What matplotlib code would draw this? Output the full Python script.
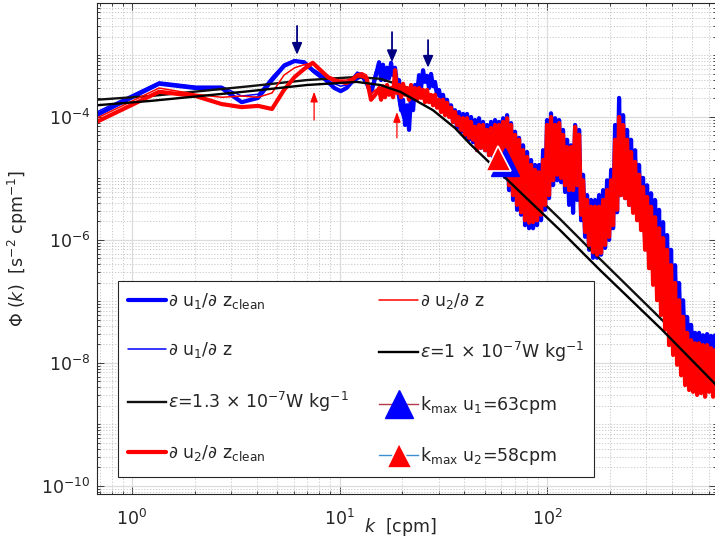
import numpy as np
import matplotlib
matplotlib.use("Agg")
import matplotlib.pyplot as plt
from matplotlib.ticker import LogLocator, NullFormatter

plt.rcParams['font.family'] = ['DejaVu Sans']
plt.rcParams['mathtext.fontset'] = 'dejavusans'

# wavenumber k [cpm]: low harmonics and the dense high-k part
k_low = [0.675, 1.35, 2.025, 2.70, 3.375, 4.05, 4.725, 5.40, 6.075, 6.75, 7.425,
         8.10, 8.775, 9.45, 10.125, 10.80, 11.475, 12.15, 12.825, 13.50, 14.175, 14.85]
k_high = [15.50, 15.85, 16.20, 16.56, 16.94, 17.32, 17.71, 18.11, 18.51, 18.93,
          19.35, 19.78, 20.23, 20.68, 21.15, 21.62, 22.11, 22.61, 23.11, 23.63,
          24.16, 24.70, 25.26, 25.83, 26.40, 26.99, 27.60, 28.22, 28.85, 29.50,
          30.16, 30.84, 31.53, 32.24, 32.96, 33.70, 34.46, 35.23, 36.02, 36.83,
          37.66, 38.50, 39.37, 40.25, 41.15, 42.07, 43.02, 43.99, 44.97, 45.98,
          47.01, 48.06, 49.15, 50.25, 51.38, 52.53, 53.71, 54.92, 56.15, 57.41,
          58.70, 60.02, 61.36, 62.74, 64.15, 65.59, 67.06, 68.56, 70.10, 71.67,
          73.29, 74.93, 76.61, 78.33, 80.09, 81.89, 83.73, 85.61, 87.53, 89.49,
          91.50, 93.55, 95.66, 97.81, 100.0, 102.2, 104.5, 106.9, 109.3, 111.8,
          114.3, 116.8, 119.4, 122.1, 124.9, 127.7, 130.5, 133.5, 136.5, 139.6,
          142.7, 145.9, 149.1, 152.5, 155.9, 159.4, 163.0, 166.6, 170.4, 174.2,
          178.1, 182.1, 186.2, 190.4, 194.6, 199.0, 203.5, 208.1, 212.7, 217.5,
          222.4, 227.4, 232.5, 237.7, 243.0, 248.5, 254.0, 259.7, 265.6, 271.5,
          277.6, 283.8, 290.2, 296.7, 303.4, 310.2, 317.2, 324.3, 331.6, 339.0,
          346.6, 354.4, 362.4, 370.5, 378.8, 387.3, 396.0, 404.9, 414.0, 423.3,
          432.8, 442.5, 452.4, 462.6, 473.0, 483.6, 494.4, 505.5, 516.9, 528.5,
          540.3, 552.4, 564.8, 577.5, 590.5, 603.7, 617.3, 631.2, 645.3]

# log10 of Phi(k) [s^-2 cpm^-1]
u1_clean_low = [-3.97, -3.46, -3.53, -3.53, -3.76, -3.69, -3.40, -3.17, -3.09, -3.11, -3.24,
                -3.32, -3.43, -3.53, -3.58, -3.53, -3.43, -3.37, -3.33, -3.45, -3.61, -3.37]
u1_clean_high = [-3.11, -3.40, -3.15, -3.40, -3.20, -3.37, -3.12, -3.32, -3.20, -3.48,
                 -3.40, -3.89, -3.72, -4.13, -3.81, -4.21, -3.64, -3.89, -3.48, -3.64,
                 -3.32, -3.53, -3.24, -3.43, -3.33, -3.53, -3.30, -3.50, -3.43, -3.64,
                 -3.56, -3.76, -3.64, -3.85, -3.72, -3.97, -3.81, -4.08, -3.89, -4.18,
                 -3.92, -4.24, -3.95, -4.33, -3.95, -4.37, -4.00, -4.41, -4.05, -4.54,
                 -4.02, -4.50, -4.08, -4.54, -4.13, -4.62, -4.08, -4.65, -4.05, -4.70,
                 -4.08, -4.83, -4.02, -4.98, -3.97, -5.19, -4.10, -5.35, -4.24, -5.51,
                 -4.34, -5.59, -4.46, -5.76, -4.57, -5.81, -4.70, -5.81, -4.78, -5.76,
                 -4.78, -5.68, -4.54, -5.51, -4.05, -5.32, -3.94, -5.11, -4.02, -5.03,
                 -4.05, -5.06, -4.21, -5.22, -4.37, -5.43, -4.46, -5.56, -4.13, -5.35,
                 -4.21, -5.68, -4.94, -5.95, -5.27, -6.16, -5.35, -6.29, -5.35, -6.29,
                 -5.27, -6.24, -5.19, -6.13, -5.03, -6.00, -4.86, -5.81, -4.13, -5.55,
                 -3.69, -5.27, -3.97, -5.32, -4.21, -5.43, -4.37, -5.51, -4.54, -5.59,
                 -4.78, -5.71, -4.99, -6.00, -5.11, -6.24, -5.24, -6.49, -5.35, -6.73,
                 -5.51, -6.98, -5.71, -7.17, -5.92, -7.38, -6.16, -7.55, -6.41, -7.66,
                 -6.70, -7.76, -6.98, -7.79, -7.25, -7.82, -7.38, -7.84, -7.51, -7.87,
                 -7.51, -7.84, -7.55, -7.87, -7.53, -7.82, -7.56, -7.87, -7.55]

u2_clean_low = [-4.08, -3.59, -3.66, -3.79, -3.84, -3.82, -3.87, -3.56, -3.35, -3.22, -3.12,
                -3.24, -3.35, -3.40, -3.43, -3.45, -3.40, -3.33, -3.33, -3.37, -3.72, -3.64]
u2_clean_high = [-3.53, -3.72, -3.50, -3.68, -3.48, -3.64, -3.53, -3.68, -3.24, -3.61,
                 -3.48, -3.68, -3.46, -3.64, -3.53, -3.72, -3.48, -3.68, -3.53, -3.72,
                 -3.53, -3.69, -3.56, -3.76, -3.56, -3.76, -3.64, -3.81, -3.64, -3.85,
                 -3.72, -3.92, -3.72, -3.97, -3.77, -4.00, -3.85, -4.08, -3.92, -4.13,
                 -4.02, -4.21, -4.02, -4.29, -4.02, -4.34, -4.08, -4.37, -4.16, -4.54,
                 -4.13, -4.50, -4.13, -4.54, -4.21, -4.62, -4.18, -4.62, -4.13, -4.67,
                 -4.13, -4.78, -4.08, -4.94, -4.02, -5.11, -4.13, -5.27, -4.29, -5.43,
                 -4.37, -5.55, -4.54, -5.68, -4.65, -5.72, -4.78, -5.71, -4.86, -5.68,
                 -4.90, -5.59, -4.70, -5.43, -4.13, -5.27, -4.00, -5.03, -4.13, -4.94,
                 -4.10, -4.99, -4.29, -5.11, -4.49, -5.19, -4.49, -5.19, -4.16, -5.11,
                 -4.29, -5.59, -5.03, -5.87, -5.35, -6.08, -5.46, -6.20, -5.46, -6.24,
                 -5.46, -6.21, -5.35, -6.08, -5.19, -5.95, -5.03, -5.76, -4.37, -5.51,
                 -4.00, -5.27, -4.13, -5.32, -4.37, -5.43, -4.57, -5.56, -4.73, -5.68,
                 -4.94, -5.84, -5.14, -6.16, -5.30, -6.46, -5.46, -6.73, -5.63, -6.98,
                 -5.81, -7.22, -5.97, -7.46, -6.16, -7.71, -6.41, -7.87, -6.70, -8.03,
                 -6.98, -8.20, -7.25, -8.36, -7.51, -8.44, -7.63, -8.47, -7.68, -8.52,
                 -7.68, -8.49, -7.71, -8.55, -7.71, -8.47, -7.76, -8.55, -7.79]

u1_raw_log = [-3.92, -3.43, -3.50, -3.50, -3.66, -3.63, -3.35, -3.14, -3.07, -3.12, -3.27,
              -3.37, -3.40, -3.46, -3.50, -3.48, -3.37, -3.27, -3.30, -3.40, -3.53, -3.27,
              -3.15, -3.27, -3.20, -3.17, -3.40, -3.81, -4.02, -4.05, -3.72, -3.53,
              -3.37, -3.32, -3.40, -3.37, -3.56, -3.64, -3.72, -3.85, -3.89, -4.02,
              -4.02, -4.13, -4.05, -4.21, -4.08, -4.29, -4.13, -4.37, -4.18, -4.41,
              -4.18, -4.54, -4.13, -4.70, -4.37, -5.19, -4.70, -5.43, -4.86, -5.43,
              -4.94, -5.35, -4.86, -4.08, -4.78, -4.18, -4.86, -4.70, -5.27, -4.37,
              -4.37, -5.59, -5.43, -6.00, -5.59, -6.00, -5.51, -5.76, -5.43, -5.19,
              -3.89, -4.94, -4.37, -5.19, -4.78, -5.43, -5.19, -5.92, -5.51, -6.41,
              -5.84, -6.81, -6.33, -7.22, -6.73, -7.46, -7.14, -7.63, -7.51, -7.71,
              -7.59, -7.71, -7.63, -7.72, -7.66]

u2_raw_log = [-4.02, -3.53, -3.63, -3.68, -3.66, -3.68, -3.61, -3.32, -3.20, -3.15, -3.12,
              -3.25, -3.37, -3.43, -3.40, -3.40, -3.37, -3.30, -3.28, -3.32, -3.64, -3.56,
              -3.64, -3.59, -3.56, -3.59, -3.32, -3.56, -3.53, -3.64, -3.56, -3.64,
              -3.61, -3.69, -3.64, -3.72, -3.72, -3.81, -3.81, -3.89, -3.89, -3.98,
              -3.98, -4.08, -4.08, -4.18, -4.15, -4.28, -4.21, -4.34, -4.26, -4.41,
              -4.24, -4.54, -4.13, -4.70, -4.37, -5.19, -4.73, -5.43, -4.94, -5.51,
              -5.03, -5.43, -4.90, -4.08, -4.86, -4.18, -4.90, -4.78, -5.11, -4.37,
              -4.37, -5.68, -5.35, -6.00, -5.59, -6.08, -5.59, -5.84, -5.51, -5.27,
              -4.08, -5.03, -4.46, -5.35, -4.94, -5.59, -5.35, -6.16, -5.76, -6.65,
              -6.16, -7.14, -6.65, -7.55, -7.14, -7.95, -7.63, -8.20, -7.95, -8.28,
              -8.03, -8.28, -8.08, -8.31, -8.11]

# model spectra
k_model = [0.675, 1.22, 2.13, 3.70, 6.97, 12.1, 15.7, 19.6, 28.2, 36.0, 42.6,
           74.1, 115.5, 180.0, 358.0, 645.3]
eps13_log = [-3.72, -3.66, -3.58, -3.50, -3.40, -3.35, -3.38, -3.48, -3.68, -3.97, -4.21,
             -5.03, -5.66, -6.31, -7.30, -8.15]
eps10_log = [-3.81, -3.74, -3.66, -3.58, -3.48, -3.43, -3.48, -3.59, -3.89, -4.18, -4.44,
             -5.22, -5.84, -6.49, -7.46, -8.34]

# k_max markers
kmax_u1, kmax_u1_log = 63.0, -4.74
kmax_u2, kmax_u2_log = 58.0, -4.66

# arrows: (k, tail log10, tip log10)
arrows_u1 = [(6.24, -2.52, -2.99), (17.9, -2.62, -3.11), (26.7, -2.75, -3.20)]
arrows_u2 = [(7.54, -4.05, -3.59), (18.9, -4.34, -3.92)]

labels = [r'$\partial$ u$_1$/$\partial$ z$_{\mathrm{clean}}$',
          r'$\partial$ u$_1$/$\partial$ z',
          r'$\epsilon$=1.3 $\times$ 10$^{-7}$W kg$^{-1}$',
          r'$\partial$ u$_2$/$\partial$ z$_{\mathrm{clean}}$',
          r'$\partial$ u$_2$/$\partial$ z',
          r'$\epsilon$=1 $\times$ 10$^{-7}$W kg$^{-1}$',
          r'k$_{\mathrm{max}}$ u$_1$=63cpm',
          r'k$_{\mathrm{max}}$ u$_2$=58cpm']

k_clean = k_low + k_high
k_raw = k_low + k_high[::2]
u1_clean_log = u1_clean_low + u1_clean_high
u2_clean_log = u2_clean_low + u2_clean_high

txt = '#262626'
fig = plt.figure(figsize=(7.15, 5.45), dpi=100)
ax = fig.add_axes([0.1357, 0.0936, 0.8663, 0.9009])
ax.set_xscale('log')
ax.set_yscale('log')

p = lambda a: 10.0 ** np.asarray(a)
kw = dict(solid_joinstyle='round', solid_capstyle='round')
ax.plot(k_clean, p(u1_clean_log), color='#0000ff', lw=3.0, label=labels[0], **kw)
ax.plot(k_raw, p(u1_raw_log), color='#0000ff', lw=1.1, label=labels[1], **kw)
ax.plot(k_model, p(eps13_log), color='#111111', lw=1.7, label=labels[2])
ax.plot(k_clean, p(u2_clean_log), color='#ff0000', lw=3.0, label=labels[3], **kw)
ax.plot(k_raw, p(u2_raw_log), color='#ff0000', lw=1.1, label=labels[4], **kw)
ax.plot(k_model, p(eps10_log), color='#000000', lw=1.7, label=labels[5])
ax.plot([kmax_u1], [10 ** kmax_u1_log], marker='^', ms=20, mfc='#0000ff', mec='#0000ff',
        color='#b03a48', lw=1.0, label=labels[6])
ax.plot([kmax_u2], [10 ** kmax_u2_log], marker='^', ms=18, mfc='#ff0000', mec='white',
        mew=1.2, color='#3d8fd1', lw=1.0, label=labels[7])

for kk, t0, t1 in arrows_u1:
    ax.annotate('', xy=(kk, 10 ** t1), xytext=(kk, 10 ** t0),
                arrowprops=dict(arrowstyle='-|>,head_width=0.3,head_length=0.7',
                                color='#000080', lw=1.3, shrinkA=0, shrinkB=0))
for kk, t0, t1 in arrows_u2:
    ax.annotate('', xy=(kk, 10 ** t1), xytext=(kk, 10 ** t0),
                arrowprops=dict(arrowstyle='-|>,head_width=0.22,head_length=0.6',
                                color='#ff0000', lw=0.9, shrinkA=0, shrinkB=0))

ax.set_xlim(0.678, 655)
ax.set_ylim(7.40e-11, 7.13e-3)
ax.set_yticks([1e-10, 1e-8, 1e-6, 1e-4])
ax.set_xticks([1, 10, 100])
ax.xaxis.set_minor_locator(LogLocator(base=10, subs=np.arange(1, 10), numticks=100))
ax.yaxis.set_minor_locator(LogLocator(base=10, subs=np.arange(1, 10), numticks=100))
ax.xaxis.set_minor_formatter(NullFormatter())
ax.yaxis.set_minor_formatter(NullFormatter())

ax.set_axisbelow(True)
ax.grid(True, which='major', color='#dcdcdc', lw=0.9, ls='-')
ax.grid(True, which='minor', color='#c4c4c4', lw=0.6, ls=(0, (1.5, 2)))
ax.tick_params(which='both', direction='in', top=True, right=True, colors=txt,
               labelsize=12.5, width=0.6)
ax.tick_params(which='major', length=5)
ax.tick_params(which='minor', length=2.5)
ax.tick_params(axis='x', pad=11)
ax.tick_params(axis='y', pad=5)
for s in ax.spines.values():
    s.set_color('#262626')
    s.set_linewidth(0.8)

ax.set_xlabel(r'$k$  [cpm]', fontsize=12.5, color=txt)
ax.xaxis.set_label_coords(0.49, -0.045)
ax.set_ylabel(r'$\Phi$ ($k$)  [s$^{-2}$ cpm$^{-1}$]', fontsize=12.5, color=txt)
ax.yaxis.set_label_coords(-0.108, 0.5)

leg = ax.legend(ncol=2, loc='lower left', bbox_to_anchor=(0.034, 0.035),
                prop={'size': 12.5}, frameon=True, fancybox=False, framealpha=1,
                edgecolor='#262626', handlelength=2.2, handletextpad=0.15,
                columnspacing=1.75, labelspacing=1.7, borderpad=0.55, numpoints=1,
                borderaxespad=0)
leg.get_frame().set_linewidth(0.8)
for t in leg.get_texts():
    t.set_color(txt)

fig.savefig('out.png', dpi=100, facecolor='white')
